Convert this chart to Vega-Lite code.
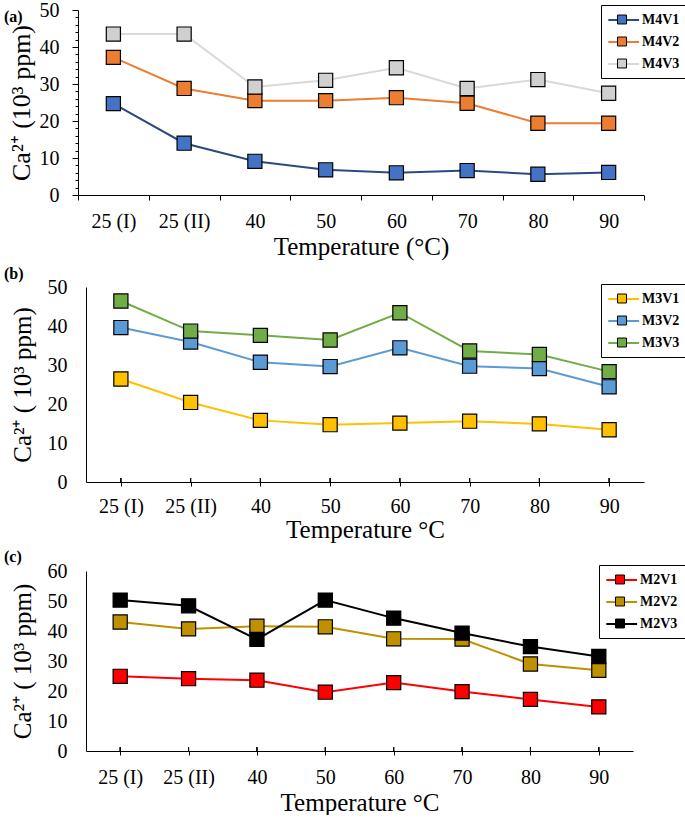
{
  "$schema": "https://vega.github.io/schema/vega-lite/v6.json",
  "padding": {"left": 4, "top": 0, "right": 0, "bottom": 0},
  "spacing": 7,
  "config": {
    "font": "Liberation Serif",
    "view": {"stroke": null},
    "axis": {
      "domainColor": "black", "tickColor": "black", "labelColor": "black", "titleColor": "black",
      "labelFont": "Liberation Serif", "titleFont": "Liberation Serif", "labelFontSize": 20, "titleFontSize": 25,
      "titleFontWeight": "normal", "grid": false, "labelAngle": 0
    },
    "legend": {"labelFont": "Liberation Serif", "labelFontSize": 14, "labelFontWeight": "bold", "labelColor": "black"},
    "title": {"font": "Liberation Serif", "fontSize": 16, "fontWeight": "bold", "color": "black"}
  },
  "datasets": {
    "a": [
      {"t": "25 (I)", "s": "M4V1", "v": 24.7}, {"t": "25 (II)", "s": "M4V1", "v": 14.0}, {"t": "40", "s": "M4V1", "v": 9.1}, {"t": "50", "s": "M4V1", "v": 6.8},
      {"t": "60", "s": "M4V1", "v": 6.0}, {"t": "70", "s": "M4V1", "v": 6.6}, {"t": "80", "s": "M4V1", "v": 5.6}, {"t": "90", "s": "M4V1", "v": 6.1},
      {"t": "25 (I)", "s": "M4V2", "v": 37.2}, {"t": "25 (II)", "s": "M4V2", "v": 28.8}, {"t": "40", "s": "M4V2", "v": 25.5}, {"t": "50", "s": "M4V2", "v": 25.5},
      {"t": "60", "s": "M4V2", "v": 26.3}, {"t": "70", "s": "M4V2", "v": 24.8}, {"t": "80", "s": "M4V2", "v": 19.4}, {"t": "90", "s": "M4V2", "v": 19.4},
      {"t": "25 (I)", "s": "M4V3", "v": 43.5}, {"t": "25 (II)", "s": "M4V3", "v": 43.5}, {"t": "40", "s": "M4V3", "v": 29.2}, {"t": "50", "s": "M4V3", "v": 31.0},
      {"t": "60", "s": "M4V3", "v": 34.4}, {"t": "70", "s": "M4V3", "v": 28.8}, {"t": "80", "s": "M4V3", "v": 31.2}, {"t": "90", "s": "M4V3", "v": 27.5}
    ],
    "b": [
      {"t": "25 (I)", "s": "M3V1", "v": 26.4}, {"t": "25 (II)", "s": "M3V1", "v": 20.4}, {"t": "40", "s": "M3V1", "v": 15.8}, {"t": "50", "s": "M3V1", "v": 14.7},
      {"t": "60", "s": "M3V1", "v": 15.1}, {"t": "70", "s": "M3V1", "v": 15.6}, {"t": "80", "s": "M3V1", "v": 14.9}, {"t": "90", "s": "M3V1", "v": 13.4},
      {"t": "25 (I)", "s": "M3V2", "v": 39.6}, {"t": "25 (II)", "s": "M3V2", "v": 35.9}, {"t": "40", "s": "M3V2", "v": 30.7}, {"t": "50", "s": "M3V2", "v": 29.6},
      {"t": "60", "s": "M3V2", "v": 34.4}, {"t": "70", "s": "M3V2", "v": 29.7}, {"t": "80", "s": "M3V2", "v": 29.1}, {"t": "90", "s": "M3V2", "v": 24.4},
      {"t": "25 (I)", "s": "M3V3", "v": 46.4}, {"t": "25 (II)", "s": "M3V3", "v": 38.7}, {"t": "40", "s": "M3V3", "v": 37.6}, {"t": "50", "s": "M3V3", "v": 36.4},
      {"t": "60", "s": "M3V3", "v": 43.4}, {"t": "70", "s": "M3V3", "v": 33.6}, {"t": "80", "s": "M3V3", "v": 32.7}, {"t": "90", "s": "M3V3", "v": 28.3}
    ],
    "c": [
      {"t": "25 (I)", "s": "M2V1", "v": 24.9}, {"t": "25 (II)", "s": "M2V1", "v": 24.1}, {"t": "40", "s": "M2V1", "v": 23.6}, {"t": "50", "s": "M2V1", "v": 19.6},
      {"t": "60", "s": "M2V1", "v": 22.8}, {"t": "70", "s": "M2V1", "v": 19.8}, {"t": "80", "s": "M2V1", "v": 17.2}, {"t": "90", "s": "M2V1", "v": 14.7},
      {"t": "25 (I)", "s": "M2V2", "v": 43.0}, {"t": "25 (II)", "s": "M2V2", "v": 40.7}, {"t": "40", "s": "M2V2", "v": 41.6}, {"t": "50", "s": "M2V2", "v": 41.4},
      {"t": "60", "s": "M2V2", "v": 37.4}, {"t": "70", "s": "M2V2", "v": 37.3}, {"t": "80", "s": "M2V2", "v": 29.0}, {"t": "90", "s": "M2V2", "v": 26.9},
      {"t": "25 (I)", "s": "M2V3", "v": 50.3}, {"t": "25 (II)", "s": "M2V3", "v": 48.4}, {"t": "40", "s": "M2V3", "v": 37.2}, {"t": "50", "s": "M2V3", "v": 50.3},
      {"t": "60", "s": "M2V3", "v": 44.3}, {"t": "70", "s": "M2V3", "v": 39.3}, {"t": "80", "s": "M2V3", "v": 34.8}, {"t": "90", "s": "M2V3", "v": 31.5}
    ]
  },
  "resolve": {
    "scale": {"stroke": "independent", "fill": "independent", "x": "independent", "y": "independent"},
    "legend": {"stroke": "independent", "fill": "independent"}
  },
  "vconcat": [
    {
      "width": 558, "height": 185,
      "title": {"text": "(a)", "anchor": "start", "frame": "group", "dx": -82, "offset": -25},
      "data": {"name": "a"},
      "encoding": {
        "x": {"field": "t", "type": "ordinal", "sort": ["25 (I)", "25 (II)", "40", "50", "60", "70", "80", "90"],
              "scale": {"type": "band", "paddingInner": 0, "paddingOuter": 0, "range": [-8, 558]},
              "axis": {"title": "Temperature (°C)", "tickBand": "extent", "tickSize": 5, "labelPadding": 11, "titlePadding": 3}},
        "y": {"field": "v", "type": "quantitative", "scale": {"domain": [0, 50], "nice": false},
              "axis": {"title": "Ca²⁺ (10³ ppm)", "titleFontSize": 26, "offset": 8, "values": [0,2,4,6,8,10,12,14,16,18,20,22,24,26,28,30,32,34,36,38,40,42,44,46,48,50],
                       "labelExpr": "datum.value % 10 === 0 ? datum.label : ''",
                       "tickSize": {"condition": {"test": "datum.value % 10 === 0", "value": 6}, "value": 3},
                       "labelPadding": 13, "titlePadding": 5}}
      },
      "layer": [
        {"mark": {"type": "line", "strokeWidth": 2},
         "encoding": {"stroke": {"field": "s", "type": "nominal", "scale": {"range": ["#2b4a80", "#ed7d31", "#d9d9d9"]},
           "legend": {"orient": "none", "legendX": 515, "legendY": -5, "title": null, "symbolType": "M-1.1,0H3.3", "symbolSize": 196, "symbolStrokeWidth": 2,
                      "labelOffset": 18, "padding": 7, "rowPadding": 7, "strokeColor": "black"}}}},
        {"mark": {"type": "point", "shape": "square", "filled": true, "size": 200, "stroke": "black", "strokeWidth": 1.2, "opacity": 1},
         "encoding": {"fill": {"field": "s", "type": "nominal", "scale": {"domain": ["M4V1", "M4V2", "M4V3"], "range": ["#4472c4", "#ed7d31", "#d0d0d0"]},
           "legend": {"orient": "none", "legendX": 515, "legendY": -5, "title": null, "symbolType": "M0.29,-0.64H1.57V0.64H0.29Z", "symbolSize": 196,
                      "symbolStrokeColor": "black", "symbolStrokeWidth": 1, "labelExpr": "''", "labelOffset": 18, "padding": 7, "rowPadding": 7}}}}
      ]
    },
    {
      "width": 558, "height": 195,
      "title": {"text": "(b)", "anchor": "start", "frame": "group", "dx": -82, "offset": -5},
      "data": {"name": "b"},
      "encoding": {
        "x": {"field": "t", "type": "ordinal", "sort": ["25 (I)", "25 (II)", "40", "50", "60", "70", "80", "90"],
              "scale": {"type": "point", "padding": 0.5},
              "axis": {"title": "Temperature °C", "tickSize": 4, "labelPadding": 10, "titlePadding": 1}},
        "y": {"field": "v", "type": "quantitative", "scale": {"domain": [0, 50], "nice": false},
              "axis": {"title": "Ca²⁺ ( 10³ ppm)", "values": [0, 10, 20, 30, 40, 50], "ticks": false, "labelPadding": 19, "titlePadding": 12}}
      },
      "layer": [
        {"mark": {"type": "line", "strokeWidth": 2},
         "encoding": {"stroke": {"field": "s", "type": "nominal", "scale": {"range": ["#ffc000", "#5b9bd5", "#70ad47"]},
           "legend": {"orient": "none", "legendX": 515, "legendY": -3, "title": null, "symbolType": "M-1.1,0H3.3", "symbolSize": 196, "symbolStrokeWidth": 2,
                      "labelOffset": 18, "padding": 7, "rowPadding": 7, "strokeColor": "black"}}}},
        {"mark": {"type": "rule", "color": "black", "strokeWidth": 1},
         "encoding": {"y": {"datum": 0}, "y2": {"datum": 1}}},
        {"mark": {"type": "point", "shape": "square", "filled": true, "size": 200, "stroke": "black", "strokeWidth": 1.2, "opacity": 1},
         "encoding": {"fill": {"field": "s", "type": "nominal", "scale": {"domain": ["M3V1", "M3V2", "M3V3"], "range": ["#ffc000", "#5b9bd5", "#70ad47"]},
           "legend": {"orient": "none", "legendX": 515, "legendY": -3, "title": null, "symbolType": "M0.29,-0.64H1.57V0.64H0.29Z", "symbolSize": 196,
                      "symbolStrokeColor": "black", "symbolStrokeWidth": 1, "labelExpr": "''", "labelOffset": 18, "padding": 7, "rowPadding": 7}}}}
      ]
    },
    {
      "width": 547, "height": 180,
      "title": {"text": "(c)", "anchor": "start", "frame": "group", "dx": -82, "offset": -4},
      "data": {"name": "c"},
      "encoding": {
        "x": {"field": "t", "type": "ordinal", "sort": ["25 (I)", "25 (II)", "40", "50", "60", "70", "80", "90"],
              "scale": {"type": "point", "padding": 0.5},
              "axis": {"title": "Temperature °C", "tickSize": 4, "labelPadding": 12, "titlePadding": 3}},
        "y": {"field": "v", "type": "quantitative", "scale": {"domain": [0, 60], "nice": false},
              "axis": {"title": "Ca²⁺ ( 10³ ppm)", "values": [0, 10, 20, 30, 40, 50, 60], "ticks": false, "labelPadding": 19, "titlePadding": 12}}
      },
      "layer": [
        {"mark": {"type": "line", "strokeWidth": 2},
         "encoding": {"stroke": {"field": "s", "type": "nominal", "scale": {"range": ["#ff0000", "#bf9000", "#000000"]},
           "legend": {"orient": "none", "legendX": 513, "legendY": -6, "title": null, "symbolType": "M-1.1,0H3.3", "symbolSize": 196, "symbolStrokeWidth": 2,
                      "labelOffset": 18, "padding": 7, "rowPadding": 7, "strokeColor": "black"}}}},
        {"mark": {"type": "rule", "color": "black", "strokeWidth": 1},
         "encoding": {"y": {"datum": 0}, "y2": {"datum": 1.3}}},
        {"mark": {"type": "point", "shape": "square", "filled": true, "size": 200, "stroke": "black", "strokeWidth": 1.2, "opacity": 1},
         "encoding": {"fill": {"field": "s", "type": "nominal", "scale": {"domain": ["M2V1", "M2V2", "M2V3"], "range": ["#ff0000", "#bf9000", "#000000"]},
           "legend": {"orient": "none", "legendX": 513, "legendY": -6, "title": null, "symbolType": "M0.29,-0.64H1.57V0.64H0.29Z", "symbolSize": 196,
                      "symbolStrokeColor": "black", "symbolStrokeWidth": 1, "labelExpr": "''", "labelOffset": 18, "padding": 7, "rowPadding": 7}}}}
      ]
    }
  ]
}
